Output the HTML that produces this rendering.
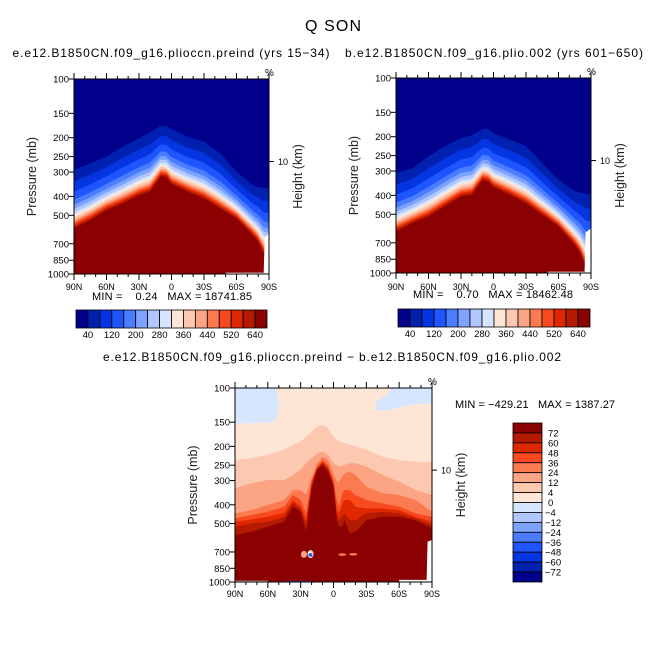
<!DOCTYPE html>
<html><head><meta charset="utf-8"><style>
html,body{margin:0;padding:0;background:#fff;}
svg{display:block;font-family:"Liberation Sans",sans-serif;}
</style></head><body>
<svg id="s" width="666" height="666" viewBox="0 0 666 666" xmlns="http://www.w3.org/2000/svg">
<text x="333" y="31" font-size="16" text-anchor="middle" textLength="56">Q SON</text>
<text x="171" y="57" font-size="12" text-anchor="middle" textLength="317">e.e12.B1850CN.f09_g16.plioccn.preind (yrs 15−34)</text>
<text x="494" y="57" font-size="12" text-anchor="middle" textLength="298">b.e12.B1850CN.f09_g16.plio.002 (yrs 601−650)</text>
<text x="332" y="361" font-size="12" text-anchor="middle" textLength="458">e.e12.B1850CN.f09_g16.plioccn.preind − b.e12.B1850CN.f09_g16.plio.002</text>
<text x="172" y="300" font-size="11" text-anchor="middle" textLength="160" xml:space="preserve">MIN =    0.24   MAX = 18741.85</text>
<text x="493" y="298" font-size="11" text-anchor="middle" textLength="160" xml:space="preserve">MIN =    0.70   MAX = 18462.48</text>
<text x="535" y="408" font-size="11" text-anchor="middle" textLength="160" xml:space="preserve">MIN = −429.21   MAX = 1387.27</text>
</svg>
<script>
// ---- data ----
const latsTop=[90,75,60,45,30,20,10,5,0,-15,-30,-45,-60,-75,-80,-85,-90];
const leftNavyP=[293,271,250,222,201,188,174,174,181,198,210,241,299,350,358,362,364];
const leftRedP=[583,528,470,434,394,378,315,317,345,378,409,460,518,631,682,783,800];
const rightNavyP=[307,290,252,224,203,197,182,182,192,207,224,273,332,381,388,392,396];
const rightRedP=[611,554,512,455,404,396,333,339,362,396,438,502,576,716,789,925,940];
const topLevels=[40,80,120,160,200,240,280,320,360,400,440,480,520,560,600,640];
const topLabels=["40","120","200","280","360","440","520","640"];
const diffLats=[90,75,60,45,37,30,25,20,15,10,5,0,-3,-5,-8,-10,-15,-20,-30,-45,-60,-75,-90];
const diff4=[235,230,221,208,196,189,178,168,158,155,161,178,185,189,191,192,196,200,208,226,235,240,240];
const diff12=[329,310,298,298,281,264,244,230,217,213,221,244,251,254,251,249,244,244,254,281,304,336,356];
const diff24=[443,426,401,378,336,336,356,290,244,226,235,275,304,304,286,275,270,281,323,349,356,378,434];
const diff36=[470,452,434,409,356,378,443,300,254,235,249,298,378,409,349,336,336,356,378,394,409,443,461];
const diff48=[489,476,461,440,378,409,480,308,259,240,256,307,426,443,394,378,378,409,418,418,426,461,489];
const diff60=[519,499,489,461,390,423,509,316,262,244,262,316,452,480,461,443,480,480,443,434,443,470,509];
const diff72=[574,551,519,489,409,434,551,330,264,249,270,323,480,519,519,480,562,551,480,461,461,480,530];
const blueLeftPatch=[[90,100],[52,100],[50,120],[51,140],[56,150],[75,152],[90,152]];
const blueRightPatch=[[-53,100],[-90,100],[-90,120],[-70,122],[-55,128],[-42,132],[-38,126],[-40,116],[-48,110]];
const blobs=[[27,720,"#fca585",3,3.5],[21,718,"#fee6d6",3,4],[21,725,"#1e55ff",2,1.8],[-8,722,"#fb7a50",4,1.3],[-18,720,"#fb7a50",4,1.3]];
const diffLabels=["72","60","48","36","24","12","4","0","−4","−12","−24","−36","−48","−60","−72"];
const xTickLabels=["90N","60N","30N","0","30S","60S","90S"];
const xTickLats=[90,60,30,0,-30,-60,-90];
const pTicks=[100,150,200,250,300,400,500,700,850,1000];
// ---- styling ----
const COLORS=["#00008a","#0021b0","#0435e0","#1e55ff","#4a7dff","#7da3ff","#b0c8ff","#d6e6ff","#fee6d6","#fdc8b0","#fca585","#fb7a50","#f84a1e","#e02800","#b41a00","#8b0000"];
const FR=[0,.2,.37,.51,.6,.67,.73,.77,.81,.85,.88,.91,.94,.97,1];
const NS="http://www.w3.org/2000/svg";
const S=document.getElementById('s');
function mk(tag,attrs,parent){const e=document.createElementNS(NS,tag);for(const k in attrs)e.setAttribute(k,attrs[k]);(parent||S).appendChild(e);return e;}
function axes(x0,y0,w,h){return {x0,y0,w,h,X:l=>x0+(90-l)/180*w,Y:p=>y0+Math.log10(p/100)*h};}
let clipN=0;
function panel(A,name){
  const id='c'+(clipN++);
  const cp=mk('clipPath',{id});mk('rect',{x:A.x0,y:A.y0,width:A.w,height:A.h},cp);
  const g=mk('g',{'clip-path':'url(#'+id+')'});
  
  
  return g;
}
function polyStr(pts){return pts.map(p=>p[0].toFixed(1)+','+p[1].toFixed(1)).join(' ');}
function bandBelow(A,lats,ps,fill,g,name){
  const pts=lats.map((l,i)=>[A.X(l),A.Y(ps[i])]);
  pts.push([A.X(-90)+2,A.Y(1000)+2],[A.X(90)-2,A.Y(1000)+2]);
  const e=mk('polygon',{points:polyStr(pts),fill:fill,'stroke-linejoin':'round'},g);
  
  
}
function frameAxes(A,pre,xlabY,ylabX){
  const f=mk('rect',{x:A.x0,y:A.y0,width:A.w,height:A.h,fill:'none',stroke:'#000','stroke-width':1});
  
  
  for(let l=90;l>=-90;l-=10){
    const x=A.X(l),len=(l%30===0)?6:3;
    mk('line',{x1:x,y1:A.y0,x2:x,y2:A.y0-len,stroke:'#000'});
    mk('line',{x1:x,y1:A.y0+A.h,x2:x,y2:A.y0+A.h+len,stroke:'#000'});
  }
  xTickLats.forEach((l,i)=>{
    const t=mk('text',{x:A.X(l),y:xlabY,'font-size':9,'text-anchor':'middle'});t.textContent=xTickLabels[i];
    
    
  });
  pTicks.forEach(p=>{
    const y=A.Y(p);
    mk('line',{x1:A.x0,y1:y,x2:A.x0-5,y2:y,stroke:'#000'});
    const t=mk('text',{x:ylabX,y:y+3.5,'font-size':9.5,'text-anchor':'end'});t.textContent=p;
    
    
  });
  const yk=A.Y(265);
  mk('line',{x1:A.x0+A.w,y1:yk,x2:A.x0+A.w+5,y2:yk,stroke:'#000'});
  const t10=mk('text',{x:A.x0+A.w+9,y:yk+3.5,'font-size':9});t10.textContent='10';
  
  
  const pc=mk('text',{x:A.x0+A.w-4,y:A.y0-3,'font-size':10});pc.textContent='%';
  
  
  const cy=A.y0+A.h/2;
  const yt=mk('text',{x:0,y:0,'font-size':12.5,'text-anchor':'middle',fill:'#222',transform:`translate(${A.x0-38},${cy}) rotate(-90)`});yt.textContent='Pressure (mb)';
  
  
  const ht=mk('text',{x:0,y:0,'font-size':12.5,'text-anchor':'middle',fill:'#222',transform:`translate(${A.x0+A.w+33},${cy}) rotate(-90)`});ht.textContent='Height (km)';
  
  
}
function topPanel(A,navy,red,pre,cutLat,cutP){
  const g=panel(A,pre+'-contour-field');
  mk('rect',{x:A.x0,y:A.y0,width:A.w,height:A.h,fill:COLORS[0]},g);
  for(let k=1;k<16;k++){
    const ps=navy.map((n,i)=>Math.pow(10,Math.log10(n)+FR[k-1]*(Math.log10(red[i])-Math.log10(n))));
    bandBelow(A,latsTop,ps,COLORS[k],g,pre+'-band-'+topLevels[k-1]);
  }
  mk('polygon',{points:polyStr([[A.X(cutLat),A.Y(cutP)],[A.X(-90)+2,A.Y(cutP-40)],[A.X(-90)+2,A.Y(1000)+2],[A.X(cutLat+1),A.Y(1000)+2]]),fill:'#fff'},g);
  mk('rect',{x:A.X(-50),y:A.Y(985),width:A.X(cutLat+1)-A.X(-50),height:A.Y(1000)-A.Y(985)+2,fill:'#fff'},g);
  frameAxes(A,pre,290,A.x0-5);
}
function colorbarH(x,y,w,h,pre){
  const bw=w/16;
  for(let k=0;k<16;k++){
    const r=mk('rect',{x:x+k*bw,y,width:bw,height:h,fill:COLORS[k],stroke:'#000','stroke-width':0.8});
    
    
  }
  topLabels.forEach((s,i)=>{
    const b=(i<7)?(1+2*i):15;
    const t=mk('text',{x:x+b*bw,y:y+h+10,'font-size':9.5,'text-anchor':'middle'});t.textContent=s;
    
    
  });
}
// panels
const AL=axes(74,79,195,195), AR=axes(396,78,195,195), AD=axes(235,388,197,194);
topPanel(AL,leftNavyP,leftRedP,'left',-86,650);
topPanel(AR,rightNavyP,rightRedP,'right',-85,620);
colorbarH(76,310,191,18,'left');
colorbarH(398,309,192,18,'right');
// diff panel
(function(){
  const g=panel(AD,'diff-contour-field');
  mk('rect',{x:AD.x0,y:AD.y0,width:AD.w,height:AD.h,fill:COLORS[8]},g);
  [blueLeftPatch,blueRightPatch].forEach(pp=>{
    const e=mk('polygon',{points:polyStr(pp.map(q=>[AD.X(q[0]),AD.Y(q[1])])),fill:COLORS[7]},g);
    
    
  });
  const lv=[diff4,diff12,diff24,diff36,diff48,diff60,diff72];
  const nm=['4','12','24','36','48','60','72'];
  lv.forEach((ps,i)=>bandBelow(AD,diffLats,ps,COLORS[9+i],g,'diff-band-'+nm[i]));
  blobs.forEach(b=>{
    const e=mk('ellipse',{cx:AD.X(b[0]),cy:AD.Y(b[1]),rx:b[3],ry:b[4],fill:b[2]},g);
    
    
  });
  mk('rect',{x:AD.X(45),y:AD.Y(990),width:AD.X(20)-AD.X(45),height:3,fill:'#1e55ff'},g);
  mk('rect',{x:AD.X(90),y:AD.Y(985),width:AD.X(60)-AD.X(90),height:4,fill:'#c8c8c8'},g);
  mk('polygon',{points:polyStr([[AD.X(-86),AD.Y(620)],[AD.X(-90)+2,AD.Y(600)],[AD.X(-90)+2,AD.Y(1000)+2],[AD.X(-85),AD.Y(1000)+2]]),fill:'#fff'},g);
  mk('rect',{x:AD.X(-60),y:AD.Y(975),width:AD.X(-85)-AD.X(-60),height:8,fill:'#fff'},g);
  frameAxes(AD,'diff',597,AD.x0-5);
})();
// vertical colorbar
(function(){
  const x=513,y=423,w=29,h=159,bh=h/16;
  for(let k=0;k<16;k++){
    const r=mk('rect',{x,y:y+k*bh,width:w,height:bh,fill:COLORS[15-k],stroke:'#000','stroke-width':0.8});
    
    
  }
  diffLabels.forEach((s,i)=>{
    const t=mk('text',{x:s[0]==='−'?545:548,y:y+(i+1)*bh+3.5,'font-size':9.5});t.textContent=s;
    
    
  });
})();
</script>
</body></html>
